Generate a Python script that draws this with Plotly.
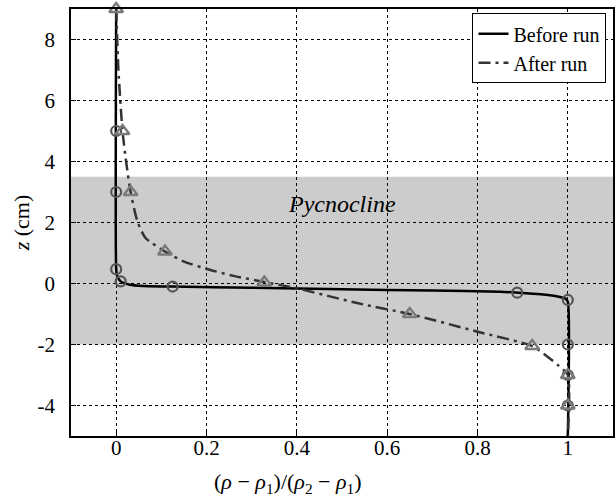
import plotly.graph_objects as go

# Before run profile (line)
before_x = [0, 0, 0.002, 0.01, 0.03, 0.06, 0.125, 0.3, 0.5, 0.7, 0.85, 0.89, 0.94, 0.975, 0.995, 1, 1]
before_z = [9, 0.5, 0.25, 0.07, -0.04, -0.08, -0.1, -0.14, -0.19, -0.23, -0.27, -0.3, -0.35, -0.42, -0.5, -0.6, -5]
# Before run markers
before_mx = [0, 0, 0, 0.01, 0.125, 0.888, 1, 1, 1, 1]
before_mz = [5, 3, 0.47, 0.07, -0.1, -0.3, -0.54, -2, -3, -4]

# After run profile
after_x = [0, 0.005, 0.014, 0.022, 0.032, 0.047, 0.065, 0.108, 0.15, 0.205, 0.26, 0.328, 0.404, 0.536, 0.65, 0.8, 0.921, 0.955, 0.98, 1, 1]
after_z = [9, 7, 5, 4, 3, 2.04, 1.49, 1.05, 0.72, 0.46, 0.25, 0.05, -0.17, -0.65, -1.0, -1.58, -2.05, -2.4, -2.7, -3, -5]
after_mx = [0, 0.014, 0.032, 0.108, 0.328, 0.65, 0.921, 1, 1]
after_mz = [9, 5, 3, 1.05, 0.03, -1.0, -2.05, -3, -4]

xticks = [0, 0.2, 0.4, 0.6, 0.8, 1]
xticktext = ["0", "0.2", "0.4", "0.6", "0.8", "1"]
yticks = [-4, -2, 0, 2, 4, 6, 8]
yticktext = ["-4", "-2", "0", "2", "4", "6", "8"]

FONT = "Liberation Serif"

fig = go.Figure()
fig.add_trace(go.Scatter(x=before_x, y=before_z, mode="lines", name="Before run",
                         line=dict(color="black", width=2.5, shape="spline", smoothing=0.6)))
fig.add_trace(go.Scatter(x=after_x, y=after_z, mode="lines", name="After run",
                         line=dict(color="#333333", width=2.5, dash="12px,5px,3px,5px",
                                   shape="spline", smoothing=0.6)))
fig.add_trace(go.Scatter(x=before_mx, y=before_mz, mode="markers", showlegend=False,
                         marker=dict(symbol="circle-open", size=10, color="#555555",
                                     line=dict(width=2.2, color="#555555")), cliponaxis=False))
fig.add_trace(go.Scatter(x=after_mx, y=after_mz, mode="markers", showlegend=False,
                         marker=dict(symbol="triangle-up-open", size=12, color="#7a7a7a",
                                     line=dict(width=2.5, color="#7a7a7a")), cliponaxis=False))

fig.add_shape(type="rect", xref="paper", x0=0, x1=1, yref="y", y0=-2, y1=3.5,
              fillcolor="#cccccc", line=dict(width=0), layer="below")

fig.add_annotation(x=0.5, y=2.6, text="<i>Pycnocline</i>", showarrow=False,
                   font=dict(family=FONT, size=24, color="black"))
fig.add_annotation(xref="paper", yref="paper", x=0.4, y=-0.11, yanchor="middle",
                   text="(<i>ρ</i> − <i>ρ</i><sub>1</sub>)/(<i>ρ</i><sub>2</sub> − <i>ρ</i><sub>1</sub>)",
                   showarrow=False, font=dict(family=FONT, size=22, color="black"))

tickfont = dict(family=FONT, size=21, color="black")
axis_common = dict(showline=True, linecolor="black", linewidth=1.5, mirror=True,
                   ticks="inside", ticklen=5, tickcolor="black",
                   showgrid=True, gridcolor="black", gridwidth=1, griddash="dot",
                   zeroline=False)

fig.update_xaxes(range=[-0.1, 1.1], tickmode="array", tickvals=xticks, ticktext=xticktext,
                 tickfont=tickfont, ticklabelstandoff=-8, **axis_common)
fig.update_yaxes(range=[-5, 9], tickmode="array", tickvals=yticks, ticktext=yticktext,
                 tickfont=tickfont, ticklabelstandoff=10,
                 title=dict(text="<i>z</i> (cm)", font=dict(family=FONT, size=22, color="black"),
                            standoff=2), **axis_common)

fig.update_layout(
    width=616, height=499,
    margin=dict(l=71, r=1, t=9, b=63),
    plot_bgcolor="white", paper_bgcolor="white",
    font=dict(family=FONT, color="black"),
    legend=dict(x=0.988, y=0.99, xanchor="right", yanchor="top",
                bgcolor="white", bordercolor="black", borderwidth=1,
                font=dict(family=FONT, size=20, color="black"),
                itemwidth=30, tracegroupgap=0),
)

fig.write_html("out.html")
